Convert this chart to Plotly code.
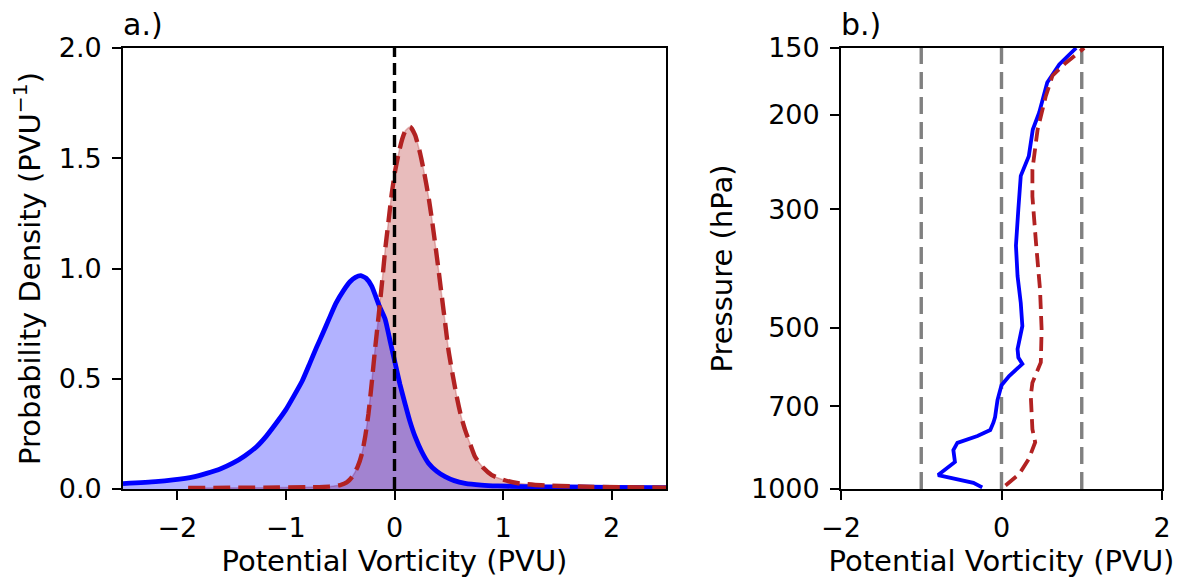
import math
import plotly.graph_objects as go

# ---------------- Panel a: PDFs ----------------
blue_pdf_x = [-2.5, -2.2, -2.04, -1.85, -1.73, -1.6, -1.49, -1.38, -1.27, -1.18, -1.09, -1.0,
              -0.93, -0.85, -0.78, -0.72, -0.66, -0.6, -0.54, -0.47, -0.41, -0.36, -0.31,
              -0.26, -0.21, -0.14, -0.086, -0.04, 0.006, 0.05, 0.098, 0.14, 0.19, 0.25, 0.313,
              0.39, 0.466, 0.55, 0.65, 0.8, 0.95, 1.2, 1.6, 2.0, 2.5]
blue_pdf_y = [0.024, 0.033, 0.041, 0.055, 0.071, 0.092, 0.117, 0.15, 0.192, 0.24, 0.298, 0.36,
              0.419, 0.49, 0.57, 0.64, 0.706, 0.775, 0.842, 0.90, 0.94, 0.96, 0.968,
              0.955, 0.92, 0.83, 0.77, 0.67, 0.57, 0.475, 0.385, 0.31, 0.237, 0.17, 0.117,
              0.08, 0.056, 0.038, 0.026, 0.018, 0.014, 0.011, 0.009, 0.007, 0.006]

red_pdf_x = [-1.9, -1.2, -0.8, -0.6, -0.5, -0.44, -0.39, -0.34, -0.3, -0.27, -0.24, -0.21,
             -0.18, -0.147, -0.115, -0.086, -0.055, -0.025, 0.005, 0.037, 0.07, 0.1, 0.144,
             0.19, 0.236, 0.275, 0.313, 0.345, 0.374, 0.405, 0.436, 0.467, 0.497, 0.535,
             0.573, 0.61, 0.65, 0.7, 0.742, 0.82, 0.896, 1.0, 1.14, 1.35, 1.7, 2.1, 2.5]
red_pdf_y = [0.005, 0.006, 0.008, 0.011, 0.018, 0.03, 0.055, 0.10, 0.16, 0.237, 0.34, 0.479,
             0.63, 0.781, 0.935, 1.084, 1.215, 1.341, 1.44, 1.52, 1.585, 1.625, 1.643,
             1.605, 1.522, 1.43, 1.326, 1.22, 1.114, 0.995, 0.872, 0.75, 0.63, 0.52,
             0.419, 0.335, 0.268, 0.2, 0.146, 0.095, 0.063, 0.042, 0.026, 0.017, 0.011, 0.008, 0.006]

a_xticks = [-2, -1, 0, 1, 2]
a_xticklabels = ["\u22122", "\u22121", "0", "1", "2"]
a_yticks = [0.0, 0.5, 1.0, 1.5, 2.0]
a_yticklabels = ["0.0", "0.5", "1.0", "1.5", "2.0"]
a_zero_line_x = [0, 0]
a_zero_line_y = [0, 2]

# ---------------- Panel b: profiles ----------------
blue_prof_p = [993, 974, 942, 921, 890, 846, 820, 796, 776, 751, 734, 682, 640, 615, 600, 584,
               568, 548, 496, 449, 400, 351, 300, 260, 239, 213, 198, 174, 161, 150]
blue_prof_pv = [-0.24, -0.35, -0.79, -0.70, -0.58, -0.60, -0.55, -0.30, -0.14, -0.10, -0.08,
                -0.05, 0.0, 0.095, 0.18, 0.26, 0.21, 0.20, 0.26, 0.24, 0.20, 0.18, 0.21, 0.24,
                0.34, 0.39, 0.47, 0.57, 0.72, 0.93]

red_prof_p = [985, 938, 879, 818, 773, 670, 633, 580, 503, 424, 347, 284, 253, 213, 185, 169,
              160, 150]
red_prof_pv = [0.05, 0.22, 0.34, 0.42, 0.385, 0.365, 0.385, 0.49, 0.50, 0.48, 0.43, 0.385,
               0.385, 0.45, 0.55, 0.635, 0.80, 1.03]

b_ref_lines = [-1, 0, 1]
b_xticks = [-2, 0, 2]
b_xticklabels = ["\u22122", "0", "2"]
b_yticks = [150, 200, 300, 500, 700, 1000]
b_yticklabels = ["150", "200", "300", "500", "700", "1000"]
b_prange = [1000, 150]

BLUE = "#0000ff"
RED = "#b22222"
FONT = "DejaVu Sans"
FS_TICK = 27
FS_TITLE = 29

fig = go.Figure()

# panel a fills + lines
fig.add_trace(go.Scatter(x=red_pdf_x, y=red_pdf_y, mode="lines", fill="tozeroy",
                         fillcolor="rgba(178,34,34,0.3)",
                         line=dict(color="rgba(178,34,34,0.3)", width=1.5, shape="spline", smoothing=0.5),
                         xaxis="x", yaxis="y", showlegend=False, hoverinfo="skip"))
fig.add_trace(go.Scatter(x=blue_pdf_x, y=blue_pdf_y, mode="lines", fill="tozeroy",
                         fillcolor="rgba(0,0,255,0.3)",
                         line=dict(color="rgba(0,0,255,0.3)", width=1.5, shape="spline", smoothing=0.5),
                         xaxis="x", yaxis="y", showlegend=False, hoverinfo="skip"))
fig.add_trace(go.Scatter(x=blue_pdf_x, y=blue_pdf_y, mode="lines",
                         line=dict(color=BLUE, width=4.8, shape="spline", smoothing=0.5),
                         xaxis="x", yaxis="y", showlegend=False))
fig.add_trace(go.Scatter(x=red_pdf_x, y=red_pdf_y, mode="lines",
                         line=dict(color=RED, width=4.4, dash="17px,8px", shape="spline", smoothing=0.5),
                         xaxis="x", yaxis="y", showlegend=False))
fig.add_trace(go.Scatter(x=a_zero_line_x, y=a_zero_line_y, mode="lines",
                         line=dict(color="black", width=3.4, dash="12px,6px"),
                         xaxis="x", yaxis="y", showlegend=False))

# panel b reference lines
for xv in b_ref_lines:
    fig.add_trace(go.Scatter(x=[xv, xv], y=b_prange, mode="lines",
                             line=dict(color="#808080", width=3.4, dash="17px,8px"),
                             xaxis="x2", yaxis="y2", showlegend=False))
fig.add_trace(go.Scatter(x=blue_prof_pv, y=blue_prof_p, mode="lines",
                         line=dict(color=BLUE, width=3.8), xaxis="x2", yaxis="y2", showlegend=False))
fig.add_trace(go.Scatter(x=red_prof_pv, y=red_prof_p, mode="lines",
                         line=dict(color=RED, width=3.8, dash="14px,7px"),
                         xaxis="x2", yaxis="y2", showlegend=False))

W, H = 1193, 586
axis_common = dict(showline=True, linecolor="black", linewidth=1.8, mirror=True,
                   ticks="outside", ticklen=9, tickwidth=1.6, tickcolor="black",
                   showgrid=False, zeroline=False, automargin=False,
                   tickfont=dict(family=FONT, size=FS_TICK, color="black"),
                   ticklabelstandoff=5)

fig.update_layout(
    template="none",
    width=W, height=H,
    margin=dict(l=0, r=0, t=0, b=0),
    paper_bgcolor="white", plot_bgcolor="white",
    font=dict(family=FONT, size=FS_TICK, color="black"),
    xaxis=dict(domain=[123 / W, 666 / W], range=[-2.5, 2.5], tickvals=a_xticks, ticktext=a_xticklabels,
               title=dict(text="Potential Vorticity (PVU)", font=dict(family=FONT, size=FS_TITLE), standoff=8),
               anchor="y", **axis_common),
    yaxis=dict(domain=[1 - 489 / H, 1 - 48 / H], range=[0, 2], tickvals=a_yticks, ticktext=a_yticklabels,
               title=dict(text="Probability Density (PVU<sup>\u22121</sup>)", font=dict(family=FONT, size=FS_TITLE), standoff=10),
               anchor="x", **axis_common),
    xaxis2=dict(domain=[841 / W, 1162 / W], range=[-2, 2], tickvals=b_xticks, ticktext=b_xticklabels,
                title=dict(text="Potential Vorticity (PVU)", font=dict(family=FONT, size=FS_TITLE), standoff=8),
                anchor="y2", **axis_common),
    yaxis2=dict(domain=[1 - 489 / H, 1 - 48 / H], type="log",
                range=[math.log10(b_prange[0]), math.log10(b_prange[1])],
                tickvals=b_yticks, ticktext=b_yticklabels,
                title=dict(text="Pressure (hPa)", font=dict(family=FONT, size=FS_TITLE), standoff=10),
                anchor="x2", **axis_common),
    annotations=[
        dict(text="a.)", xref="paper", yref="paper", x=121 / W, y=1 - 44 / H, xanchor="left", yanchor="bottom",
             showarrow=False, font=dict(family=FONT, size=30, color="black")),
        dict(text="b.)", xref="paper", yref="paper", x=839 / W, y=1 - 44 / H, xanchor="left", yanchor="bottom",
             showarrow=False, font=dict(family=FONT, size=30, color="black")),
    ],
)

fig.write_html("out.html")
